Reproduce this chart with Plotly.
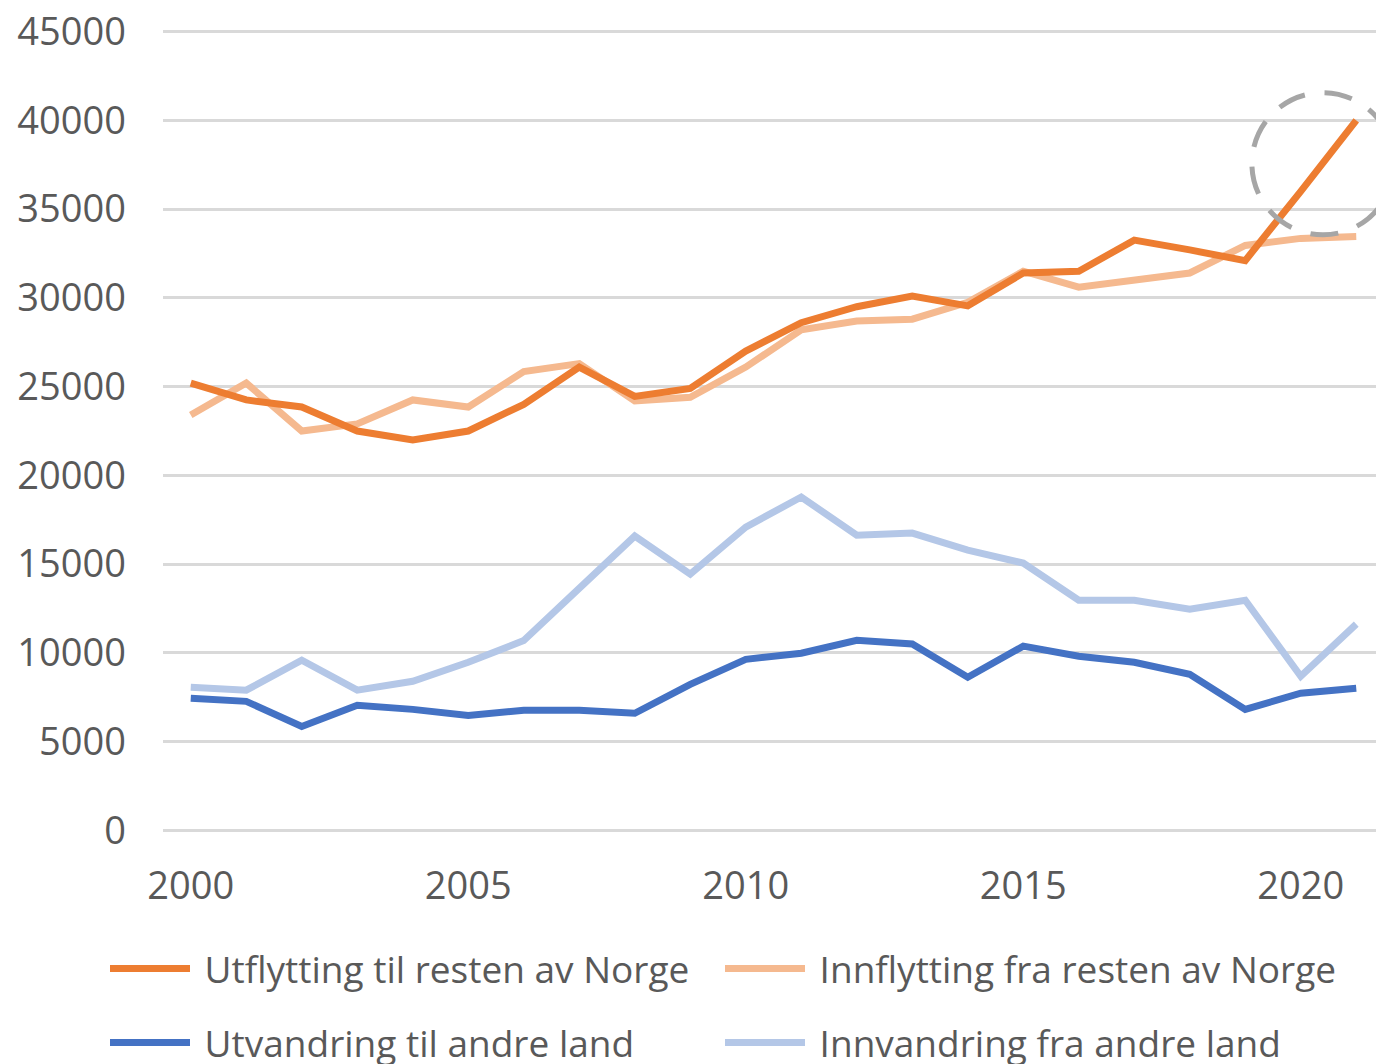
import plotly.graph_objects as go

years = list(range(2000, 2022))

utflytting = [25200, 24250, 23850, 22500, 22000, 22500, 24000, 26100, 24450, 24900,
              27000, 28600, 29500, 30100, 29550, 31400, 31500, 33250, 32700, 32100,
              36000, 40000]
innflytting = [23400, 25200, 22500, 22900, 24250, 23850, 25850, 26300, 24200, 24400,
               26100, 28200, 28700, 28800, 29750, 31500, 30600, 30950, 31400, 32950,
               33350, 33450]
utvandring = [7450, 7270, 5860, 7050, 6820, 6480, 6770, 6770, 6600, 8230,
              9640, 9980, 10710, 10500, 8630, 10380, 9810, 9470, 8800, 6820,
              7730, 8010]
innvandring = [8060, 7900, 9590, 7900, 8400, 9470, 10700, 13650, 16580, 14440,
               17090, 18780, 16630, 16750, 15790, 15060, 12970, 12970, 12460, 12970,
               8680, 11620]

series_names = ["Utflytting til resten av Norge", "Innflytting fra resten av Norge",
                "Utvandring til andre land", "Innvandring fra andre land"]
series_colors = ["#ED7D31", "#F5B98F", "#4472C4", "#B4C7E7"]
series_values = [utflytting, innflytting, utvandring, innvandring]
series_legend = ["legend", "legend2", "legend3", "legend4"]

x_tick_vals = [2000, 2005, 2010, 2015, 2020]
y_tick_vals = [0, 5000, 10000, 15000, 20000, 25000, 30000, 35000, 40000, 45000]

# highlight circle (data coordinates)
circle_x = (2019.12, 2021.68)
circle_y = (33550, 41560)

FONT = "Open Sans"
TEXT = "#595959"
W, H = 1376, 1056  # page has an 8px body margin

# y range padded slightly so the 0 and 45000 gridlines are not dropped at the edges
Y_PAD = 200
px_per_unit = 798 / 45000
pad_px = Y_PAD * px_per_unit

fig = go.Figure()
order = [1, 3, 0, 2]  # light lines beneath dark ones
for i in order:
    fig.add_trace(go.Scatter(
        x=years, y=series_values[i], mode="lines",
        name="\u00a0" + series_names[i],
        line=dict(color=series_colors[i], width=7),
        legend=series_legend[i],
    ))

fig.add_shape(type="circle", xref="x", yref="y",
              x0=circle_x[0], x1=circle_x[1], y0=circle_y[0], y1=circle_y[1],
              line=dict(color="#A6A6A6", width=5, dash="28px,20px"))

legend_common = dict(orientation="h", xref="container", yref="container",
                     xanchor="left", yanchor="middle",
                     font=dict(family=FONT, size=37, color=TEXT), itemwidth=80,
                     bgcolor="rgba(0,0,0,0)")
col_x = [97 / W, 712 / W]
row_y = [1 - 961 / H, 1 - 1035 / H]

fig.update_layout(
    width=W, height=H,
    margin=dict(l=155, r=0, t=24 - pad_px, b=(1064 - 830) - pad_px, autoexpand=False),
    paper_bgcolor="white", plot_bgcolor="white",
    font=dict(family=FONT, color=TEXT, size=38),
    showlegend=True,
    legend=dict(legend_common, x=col_x[0], y=row_y[0]),
    legend2=dict(legend_common, x=col_x[1], y=row_y[0]),
    legend3=dict(legend_common, x=col_x[0], y=row_y[1]),
    legend4=dict(legend_common, x=col_x[1], y=row_y[1]),
)
fig.update_xaxes(range=[1999.5, 2021.5], tickvals=x_tick_vals, showgrid=False,
                 zeroline=False, showline=False, ticks="", ticklabelstandoff=26,
                 automargin=False, ticklabeloverflow="allow",
                 tickfont=dict(family=FONT, size=38, color=TEXT))
fig.update_yaxes(range=[-Y_PAD, 45000 + Y_PAD], tickvals=y_tick_vals, showgrid=True,
                 gridcolor="#D9D9D9", gridwidth=3, zeroline=False, showline=False,
                 ticks="", ticklabelstandoff=36, tickformat="d", automargin=False,
                 ticklabeloverflow="allow",
                 tickfont=dict(family=FONT, size=38, color=TEXT))

fig.write_html("out.html")
